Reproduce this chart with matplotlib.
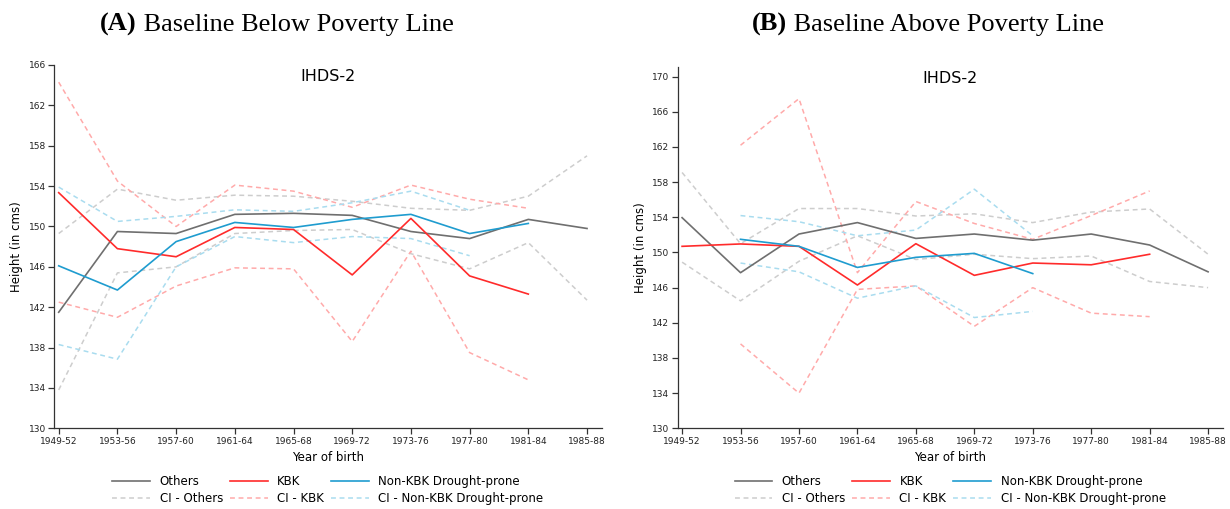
import matplotlib
matplotlib.use("Agg")
import matplotlib.pyplot as plt
import numpy as np
from matplotlib.lines import Line2D

nan = np.nan
periods = ["1949-52", "1953-56", "1957-60", "1961-64", "1965-68",
           "1969-72", "1973-76", "1977-80", "1981-84", "1985-88"]

# Panel A: Baseline Below Poverty Line
a_others = [141.5, 149.5, 149.3, 151.2, 151.3, 151.1, 149.5, 148.8, 150.7, 149.8]
a_kbk = [153.35, 147.8, 147.0, 149.9, 149.7, 145.2, 150.8, 145.1, 143.3, nan]
a_nonkbk = [146.1, 143.7, 148.5, 150.4, 149.9, 150.7, 151.2, 149.3, 150.3, nan]
a_ci_others_hi = [149.3, 153.7, 152.6, 153.1, 153.0, 152.5, 151.8, 151.6, 153.0, 157.0]
a_ci_others_lo = [133.8, 145.4, 146.0, 149.3, 149.6, 149.7, 147.3, 145.8, 148.4, 142.7]
a_ci_kbk_hi = [164.3, 154.5, 150.0, 154.1, 153.5, 151.9, 154.1, 152.7, 151.8, nan]
a_ci_kbk_lo = [142.5, 141.0, 144.1, 145.9, 145.8, 138.6, 147.55, 137.5, 134.8, nan]
a_ci_nonkbk_hi = [153.9, 150.5, 151.0, 151.65, 151.5, 152.35, 153.5, 151.6, nan, nan]
a_ci_nonkbk_lo = [138.3, 136.85, 146.0, 149.0, 148.4, 149.0, 148.8, 147.1, nan, nan]

# Panel B: Baseline Above Poverty Line
b_others = [153.96, 147.7, 152.1, 153.4, 151.6, 152.1, 151.4, 152.1, 150.85, 147.8]
b_kbk = [150.7, 150.97, 150.7, 146.3, 151.0, 147.4, 148.8, 148.6, 149.8, nan]
b_nonkbk = [nan, 151.5, 150.7, 148.3, 149.45, 149.9, 147.6, nan, nan, nan]
b_ci_others_hi = [159.1, 151.0, 155.0, 155.0, 154.15, 154.4, 153.4, 154.6, 154.95, 149.8]
b_ci_others_lo = [148.9, 144.5, 149.0, 151.9, 149.2, 149.8, 149.3, 149.6, 146.7, 146.0]
b_ci_kbk_hi = [nan, 162.2, 167.5, 147.7, 155.8, 153.3, 151.5, 154.2, 157.0, nan]
b_ci_kbk_lo = [nan, 139.6, 134.0, 145.8, 146.2, 141.6, 146.0, 143.1, 142.7, nan]
b_ci_nonkbk_hi = [nan, 154.2, 153.5, 151.9, 152.55, 157.2, 151.9, nan, nan, nan]
b_ci_nonkbk_lo = [nan, 148.8, 147.8, 144.8, 146.2, 142.6, 143.3, nan, nan, nan]

a_yticks = [130, 134, 138, 142, 146, 150, 154, 158, 162, 166]
b_yticks = [130, 134, 138, 142, 146, 150, 154, 158, 162, 166, 170]

C_OTH = "#6f6f6f"
C_KBK = "#ff2b2b"
C_NK = "#1f9ccf"
C_OTH_CI = "#cdcdcd"
C_KBK_CI = "#ffaaaa"
C_NK_CI = "#a9dcef"
DASH = (0, (3.2, 2.4))

W, H = 1230, 509
fig = plt.figure(figsize=(W / 100, H / 100), dpi=100)

x = np.arange(len(periods))


def panel(rect, ylim, yticks, oth, kbk, nk, oh, ol, kh, kl, nh, nl):
    ax = fig.add_axes(rect)
    lw = 1.1
    ax.plot(x, oh, color=C_OTH_CI, ls=DASH, lw=lw)
    ax.plot(x, ol, color=C_OTH_CI, ls=DASH, lw=lw)
    ax.plot(x, kh, color=C_KBK_CI, ls=DASH, lw=lw)
    ax.plot(x, kl, color=C_KBK_CI, ls=DASH, lw=lw)
    ax.plot(x, nh, color=C_NK_CI, ls=DASH, lw=lw)
    ax.plot(x, nl, color=C_NK_CI, ls=DASH, lw=lw)
    ax.plot(x, oth, color=C_OTH, lw=1.2)
    ax.plot(x, kbk, color=C_KBK, lw=1.2)
    ax.plot(x, nk, color=C_NK, lw=1.2)
    ax.set_xlim(-0.075, 9.25)
    ax.set_ylim(*ylim)
    ax.set_xticks(x)
    ax.set_xticklabels(periods, fontsize=6.5, color="#222222")
    ax.set_yticks(yticks)
    ax.set_yticklabels([str(v) for v in yticks], fontsize=6.5, color="#222222")
    for s in ["top", "right"]:
        ax.spines[s].set_visible(False)
    for s in ["left", "bottom"]:
        ax.spines[s].set_color("#333333")
        ax.spines[s].set_linewidth(0.9)
    ax.tick_params(direction="out", length=4, width=0.9, color="#333333", pad=2)
    ax.set_xlabel("Year of birth", fontsize=8.5, labelpad=4)
    ax.set_ylabel("Height (in cms)", fontsize=8.5, labelpad=4)
    ax.text(0.5, 0.967, "IHDS-2", transform=ax.transAxes, ha="center", va="center",
            fontsize=11.5)
    handles = [
        Line2D([], [], color=C_OTH, lw=1.2), Line2D([], [], color=C_OTH_CI, ls=DASH, lw=1.1),
        Line2D([], [], color=C_KBK, lw=1.2), Line2D([], [], color=C_KBK_CI, ls=DASH, lw=1.1),
        Line2D([], [], color=C_NK, lw=1.2), Line2D([], [], color=C_NK_CI, ls=DASH, lw=1.1),
    ]
    labels = ["Others", "CI - Others", "KBK", "CI - KBK",
              "Non-KBK Drought-prone", "CI - Non-KBK Drought-prone"]
    ax.legend(handles, labels, ncol=3, loc="upper center", bbox_to_anchor=(0.5, -0.106),
              frameon=False, fontsize=8.5, handlelength=3.2, handletextpad=0.8,
              columnspacing=0.6, labelspacing=0.35, borderpad=0.2)
    return ax


def fy(px):
    return 1 - px / H


axA = panel([54.3 / W, fy(428.3), (601.7 - 54.3) / W, (428.3 - 65) / H], (130, 166), a_yticks,
            a_others, a_kbk, a_nonkbk, a_ci_others_hi, a_ci_others_lo,
            a_ci_kbk_hi, a_ci_kbk_lo, a_ci_nonkbk_hi, a_ci_nonkbk_lo)
axB = panel([677.7 / W, fy(428.3), (1222.7 - 677.7) / W, (428.3 - 67) / H], (130, 171.1), b_yticks,
            b_others, b_kbk, b_nonkbk, b_ci_others_hi, b_ci_others_lo,
            b_ci_kbk_hi, b_ci_kbk_lo, b_ci_nonkbk_hi, b_ci_nonkbk_lo)

serif = ["Liberation Serif", "DejaVu Serif"]


def title(cx_px, letter, rest):
    t1 = fig.text(0, 0, letter, fontsize=19, fontweight="bold", family=serif)
    t2 = fig.text(0, 0, rest, fontsize=19, family=serif)
    fig.canvas.draw()
    r = fig.canvas.get_renderer()
    w1 = t1.get_window_extent(r).width
    w2 = t2.get_window_extent(r).width
    x0 = cx_px - (w1 + w2) / 2
    t1.set_position((x0 / W, fy(31)))
    t2.set_position(((x0 + w1) / W, fy(31)))


title(277, "(A)", " Baseline Below Poverty Line")
title(928, "(B)", " Baseline Above Poverty Line")

fig.savefig("out.png", dpi=100)
